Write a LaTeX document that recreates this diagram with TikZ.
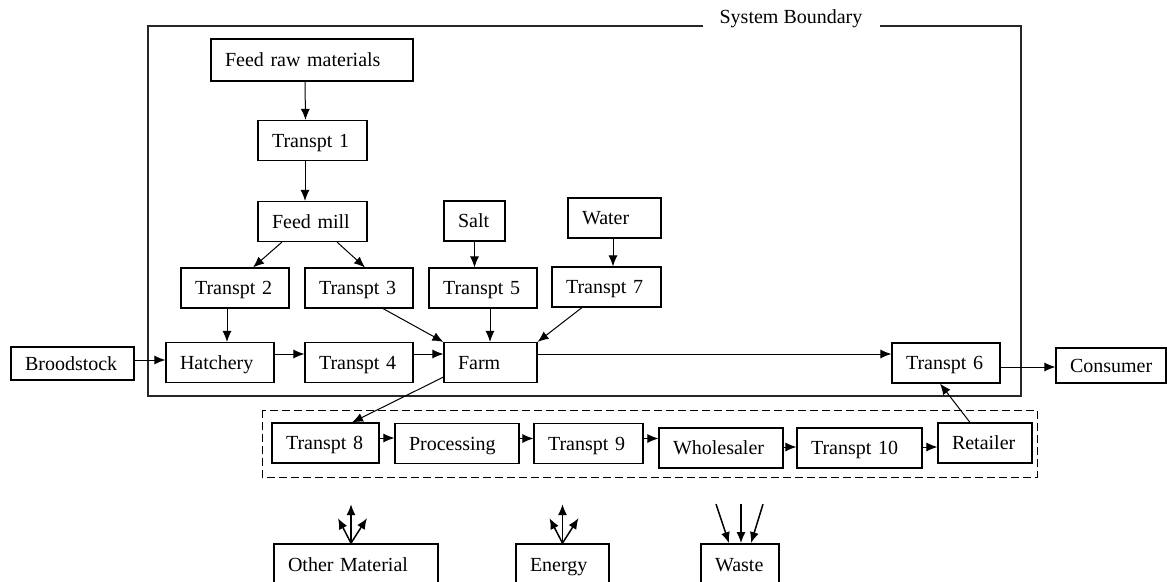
\documentclass[tikz,border=0pt]{standalone}
\usepackage{fontspec}
\setmainfont{Liberation Serif}
\usetikzlibrary{arrows.meta}

\begin{document}
\begin{tikzpicture}[x=1pt,y=-1pt,
        font=\fontsize{20}{24}\selectfont,
        blk/.style={draw,line width=1.1pt,inner xsep=14pt,inner ysep=0pt,
            minimum height=40pt,align=left,text height=15pt,text depth=2pt},
        lgd/.style={blk,line width=1.8pt,minimum height=42pt},
        flow/.style={->,line width=1pt},
        grp/.style={draw,line width=1pt,dash pattern=on 8pt off 4pt},
        >={Latex[length=11pt,width=9pt]} % Pfeilspitzen
        ]
    \useasboundingbox (0,0) rectangle (1167,581);
    \clip (0,0) rectangle (1167,581);

    % system boundary
    \node[anchor=base] (sysb) at (791,23) {System Boundary};
    \draw[line width=1.2pt,black!85] (703,26) -| (148,396) -| (1021,26) -- (880,26);
    \draw[grp] (262,410) rectangle (1037,477);

    % boxes
    \node[blk,text width=174pt,minimum height=42pt] (raw) at (312,60) {Feed raw materials};
    \node[blk,text width=81pt]  (T1)    at (312.5,140.5) {Transpt 1};
    \node[blk,text width=81pt]  (mill)  at (312.5,221.5) {Feed mill};
    \node[blk,text width=33pt]  (salt)  at (474.5,221)   {Salt};
    \node[blk,text width=65pt]  (water) at (614.5,218)   {Water};
    \node[blk,text width=80pt]  (T2)    at (235,288)     {Transpt 2};
    \node[blk,text width=80pt]  (T3)    at (359,288)     {Transpt 3};
    \node[blk,text width=80pt]  (T5)    at (483,288)     {Transpt 5};
    \node[blk,text width=81pt]  (T7)    at (606.5,287)   {Transpt 7};
    \node[blk,text width=95pt,minimum height=33pt] (brood) at (72.5,363.5) {Broodstock};
    \node[blk,text width=80pt]  (hatch) at (220,362.5)   {Hatchery};
    \node[blk,text width=80pt]  (T4)    at (359,362.5)   {Transpt 4};
    \node[blk,text width=65pt]  (farm)  at (490.5,362.5) {Farm};
    \node[blk,text width=80pt]  (T6)    at (946,363)     {Transpt 6};
    \node[blk,text width=82pt,minimum height=35pt] (cons) at (1111,365.5) {Consumer};
    \node[blk,text width=79pt]  (T8)    at (325.5,443)   {Transpt 8};
    \node[blk,text width=96pt]  (proc)  at (457,443.5)   {Processing};
    \node[blk,text width=81pt]  (T9)    at (588.5,443.5) {Transpt 9};
    \node[blk,text width=96pt]  (whole) at (721,448)     {Wholesaler};
    \node[blk,text width=97pt]  (T10)   at (859.5,448)   {Transpt 10};
    \node[blk,text width=66pt]  (ret)   at (985,443)     {Retailer};
    \node[lgd,text width=136pt] (other) at (356,565)     {Other Material};
    \node[lgd,text width=65pt]  (energy) at (562.5,565)  {Energy};
    \node[lgd,text width=50pt]  (waste) at (740,565)     {Waste};

    % feed chain
    \draw[flow] ([xshift=-7pt]raw.south) -- ([xshift=-7pt]T1.north);
    \draw[flow] ([xshift=-7.5pt]T1.south) -- ([xshift=-7.5pt]mill.north);
    \draw[flow] ([xshift=-30.5pt]mill.south) -- ([xshift=18pt]T2.north);
    \draw[flow] ([xshift=24.5pt]mill.south) -- ([xshift=6pt]T3.north);
    \draw[flow] (salt.south) -- (salt.south |- T5.north);
    \draw[flow] ([xshift=-1.5pt]water.south) -- ([xshift=-1.5pt]water.south |- T7.north);

    % into the farm
    \draw[flow] ([xshift=-8pt]T2.south) -- ([xshift=-8pt]T2.south |- hatch.north);
    \draw[flow] ([xshift=24pt]T3.south) -- (farm.north west);
    \draw[flow] ([xshift=7pt]T5.south) -- ([xshift=7pt]T5.south |- farm.north);
    \draw[flow] ([xshift=-24.5pt]T7.south) -- (farm.north east);
    \draw[flow] ([yshift=3.5pt]brood.east) -- ([yshift=3.5pt]brood.east -| hatch.west);
    \draw[flow] ([yshift=8.5pt]hatch.east) -- ([yshift=8.5pt]hatch.east -| T4.west);
    \draw[flow] ([yshift=8.5pt]T4.east) -- ([yshift=8.5pt]T4.east -| farm.west);

    % out of the farm
    \draw[flow] ([yshift=8.5pt]farm.east) -- ([yshift=8.5pt]farm.east -| T6.west);
    \draw[flow] ([yshift=-4pt]T6.east) -- ([yshift=-4pt]T6.east -| cons.west);
    \draw[flow] ([yshift=6pt]farm.south west) -- ([xshift=26.5pt]T8.north);
    \draw[flow] ([yshift=5pt]T8.east) -- ([yshift=5pt]T8.east -| proc.west);
    \draw[flow] ([yshift=5pt]proc.east) -- ([yshift=5pt]proc.east -| T9.west);
    \draw[flow] ([yshift=5pt]T9.east) -- ([yshift=5pt]T9.east -| whole.west);
    \draw[flow] ([yshift=1pt]whole.east) -- ([yshift=1pt]whole.east -| T10.west);
    \draw[flow] ([yshift=1pt]T10.east) -- ([yshift=1pt]T10.east -| ret.west);
    \draw[flow] ([xshift=-15pt]ret.north) -- ([xshift=-6pt]T6.south);

    % legend
    \foreach \dx/\dy in {0/-39,-13/-25,16/-25} {
        \draw[flow,line width=1.5pt] ([xshift=-5pt]other.north) -- ++(\dx,\dy);
        \draw[flow,line width=1.5pt] (energy.north) -- ++(\dx,\dy);
    }
    \foreach \s/\e in {-24/-11,1/1,23/11}
        \draw[flow,line width=1.5pt] ([xshift=\s pt,yshift=39pt]waste.north) -- ([xshift=\e pt]waste.north);

\end{tikzpicture}
\end{document}
